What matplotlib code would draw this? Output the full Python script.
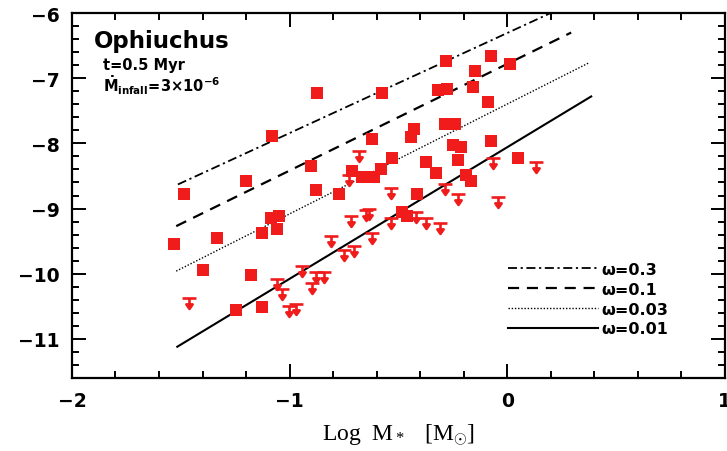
import numpy as np
import matplotlib
matplotlib.use("Agg")
import matplotlib.pyplot as plt
from matplotlib.path import Path
from matplotlib.ticker import MultipleLocator

# ---------------- data ----------------
# detections (log M*, log Mdot)
det_x = [-1.487, -1.529, -1.332, -1.400, -1.245, -1.126, -1.176, -1.199, -1.080,
         -1.126, -1.085, -1.048, -1.057, -0.902, -0.874, -0.879, -0.773, -0.714,
         -0.668, -0.613, -0.581, -0.577, -0.622, -0.531, -0.444, -0.430, -0.416,
         -0.485, -0.462, -0.375, -0.325, -0.316, -0.275, -0.279, -0.284, -0.238,
         -0.247, -0.211, -0.224, -0.188, -0.165, -0.156, -0.146, -0.087, -0.073,
         0.014, -0.073, 0.050]
det_y = [-8.77, -9.55, -9.45, -9.94, -10.55, -10.51, -10.02, -8.57, -7.89,
         -9.37, -9.14, -9.12, -9.32, -8.35, -7.22, -8.71, -8.78, -8.43,
         -8.52, -8.52, -8.40, -7.23, -7.94, -8.22, -7.91, -7.78, -8.78,
         -9.06, -9.12, -8.29, -8.45, -7.18, -7.17, -6.74, -7.71, -7.71,
         -8.02, -8.06, -8.25, -8.48, -8.58, -7.14, -6.89, -7.37, -6.66,
         -6.78, -7.97, -8.22]

# upper limits
ul_x = [-1.46, -0.810, -0.751, -0.718, -0.943, -1.057, -1.034, -0.879, -0.842,
        -1.002, -0.970, -0.897, -0.682, -0.535, -0.636, -0.535, -0.622, -0.421,
        -0.371, -0.307, -0.728, -0.650, -0.224, -0.284, -0.041, -0.064, 0.133,
        -0.705]
ul_y = [-10.37, -9.42, -9.63, -9.11, -9.88, -10.08, -10.23, -9.98, -9.98,
        -10.49, -10.46, -10.14, -8.11, -8.68, -9.00, -9.15, -9.38, -9.06,
        -9.15, -9.22, -8.49, -9.03, -8.77, -8.62, -8.83, -8.23, -8.29,
        -9.57]

# model lines (endpoints)
model_labels = ["\u03c9=0.3", "\u03c9=0.1", "\u03c9=0.03", "\u03c9=0.01"]
model_x = [[-1.513, 0.20], [-1.521, 0.294], [-1.521, 0.378], [-1.516, 0.386]]
model_y = [[-8.63, -6.00], [-9.27, -6.30], [-9.96, -6.76], [-11.12, -7.28]]

# ---------------- style ----------------
plt.rcParams['mathtext.fontset'] = 'custom'
plt.rcParams['mathtext.rm'] = 'Liberation Serif'
plt.rcParams['mathtext.it'] = 'Liberation Serif:italic'
plt.rcParams['mathtext.sf'] = 'DejaVu Sans:bold'
plt.rcParams['mathtext.bf'] = 'DejaVu Sans:bold'

RED = '#f01c1c'

fig = plt.figure(figsize=(7.27, 4.52), dpi=100)
ax = fig.add_axes([0.099, 0.1615, 0.898, 0.8075])

ax.set_xlim(-2, 1)
ax.set_ylim(-11.6, -6)

# upper-limit marker: bar at value, stem with arrow head below
verts = [(-1, 0), (1, 0), (0, 0), (0, -1.3), (-0.45, -0.85), (0, -1.5), (0.45, -0.85), (0, -1.3)]
codes = [Path.MOVETO, Path.LINETO, Path.MOVETO, Path.LINETO,
         Path.MOVETO, Path.LINETO, Path.LINETO, Path.CLOSEPOLY]
ul_marker = Path(verts, codes)

ax.plot(ul_x, ul_y, linestyle='none', marker=ul_marker, markersize=15,
        markeredgecolor=RED, markerfacecolor=RED, markeredgewidth=1.9, zorder=3)
ax.plot(det_x, det_y, linestyle='none', marker='s', markersize=8.5,
        color=RED, markeredgewidth=0, zorder=4)

dash_styles = [(0, (5, 2, 1.2, 2)), (0, (5, 3.5)), (0, (1, 1.3)), '-']
lws = [1.3, 1.6, 1.0, 1.5]
handles = []
for xs, ys, ls, lw, lab in zip(model_x, model_y, dash_styles, lws, model_labels):
    h, = ax.plot(xs, ys, color='black', linestyle=ls, linewidth=lw, label=lab, zorder=2)
    handles.append(h)

leg = ax.legend(handles=handles, loc='upper left', bbox_to_anchor=(0.668, 0.318),
                frameon=False, borderpad=0, borderaxespad=0, handlelength=5.6,
                handletextpad=0.25, labelspacing=0.3,
                prop={'family': 'DejaVu Sans', 'weight': 'bold', 'size': 11.5})

# axes styling
for s in ax.spines.values():
    s.set_linewidth(1.6)
ax.xaxis.set_major_locator(MultipleLocator(1))
ax.xaxis.set_minor_locator(MultipleLocator(0.2))
ax.yaxis.set_major_locator(MultipleLocator(1))
ax.yaxis.set_minor_locator(MultipleLocator(0.2))
ax.tick_params(which='both', direction='in', top=True, right=True, width=1.4)
ax.tick_params(which='major', length=10)
ax.tick_params(which='minor', length=5)
ax.tick_params(axis='both', which='major', labelsize=13.5, pad=9)
for lab in ax.get_xticklabels() + ax.get_yticklabels():
    lab.set_fontweight('bold')
    lab.set_family('DejaVu Sans')

ax.set_xlabel(r"Log  M$_*$   [M$_{\odot}$]", family='Liberation Serif', fontsize=17, labelpad=9)

ax.text(0.034, 0.925, "Ophiuchus", transform=ax.transAxes, family='DejaVu Sans',
        fontweight='bold', fontsize=16.5, va='center', ha='left')
ax.text(0.047, 0.858, "t=0.5 Myr", transform=ax.transAxes, family='DejaVu Sans',
        fontweight='bold', fontsize=10.5, va='center', ha='left')
ax.text(0.047, 0.803, r"$\mathsf{\dot{M}_{infall}\!=\!3{\times}10^{-6}}$", transform=ax.transAxes,
        fontsize=10.5, va='center', ha='left')

fig.savefig("out.png", dpi=100)
